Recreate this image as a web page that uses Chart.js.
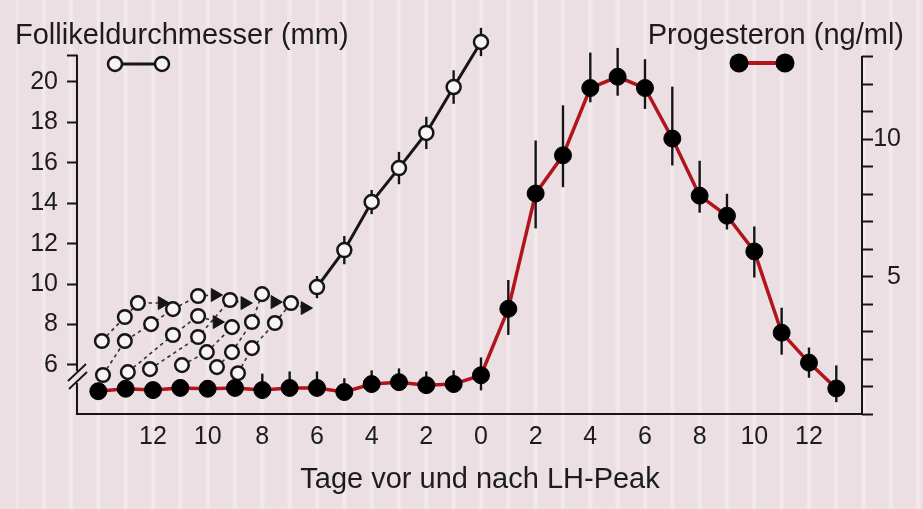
<!DOCTYPE html>
<html>
<head>
<meta charset="utf-8">
<script src="https://cdn.jsdelivr.net/npm/chart.js@4/dist/chart.umd.min.js"></script>
<style>
  html, body { margin: 0; padding: 0; }
  body {
    width: 923px; height: 509px; overflow: hidden;
    background-color: #ecdfe3;
    background-image: repeating-linear-gradient(90deg,
      rgba(255,255,255,0.3) 0px, rgba(255,255,255,0.3) 1.5px,
      rgba(255,255,255,0) 2.5px, rgba(255,255,255,0) 24.83px,
      rgba(255,255,255,0.3) 25.83px, rgba(255,255,255,0.3) 27.33px);
    background-position: 16.4px 0;
  }
  canvas { display: block; }
</style>
</head>
<body>
<canvas id="chart" width="923" height="509"></canvas>
<script>
// Days relative to the LH peak
const days = [-14,-13,-12,-11,-10,-9,-8,-7,-6,-5,-4,-3,-2,-1,0,1,2,3,4,5,6,7,8,9,10,11,12,13];

// Progesterone (ng/ml), mean with upper/lower error
const progesterone = [0.83,0.92,0.87,0.95,0.92,0.95,0.87,0.95,0.95,0.80,1.09,1.16,1.05,1.09,1.41,
                      3.83,8.03,9.42,11.87,12.28,11.87,10.03,7.95,7.22,5.92,2.96,1.87,0.93];
const progErrUp   = [0.3,0.3,0.3,0.3,0.3,0.3,0.6,0.6,0.6,0.5,0.5,0.5,0.5,0.5,0.65,
                     1.05,1.93,1.82,1.29,1.05,1.05,1.89,1.27,0.8,0.91,0.91,0.55,0.84];
const progErrDown = [0.3,0.3,0.3,0.3,0.3,0.3,0.3,0.3,0.3,0.3,0.3,0.3,0.3,0.3,0.55,
                     0.95,1.27,1.16,0.52,0.69,0.76,0.98,0.62,0.5,0.95,0.8,0.55,0.5];

// Diameter of the dominant follicle (mm)
const follicleDays = [-6,-5,-4,-3,-2,-1,0];
const follicleMm   = [9.85,11.68,14.06,15.74,17.48,19.75,21.98];
const follicleErr  = [0.55,0.7,0.6,0.8,0.8,0.83,0.7];

// Growing follicle cohorts (dashed tracks); last entry of an arrow track is the arrowhead
const cohort1Days = [-13.87,-13.03,-12.55,-11.67];
const cohort1Mm   = [7.18,8.37,9.06,9.06];
const cohort2Days = [-13.83,-13.03,-12.07,-11.27,-10.35,-9.73];
const cohort2Mm   = [5.50,7.18,8.02,8.76,9.41,9.46];
const cohort3Days = [-12.92,-11.27,-10.35,-9.66];
const cohort3Mm   = [5.64,7.48,8.42,8.12];
const cohort4Days = [-12.11,-10.35,-9.18,-8.64];
const cohort4Mm   = [5.79,7.38,9.21,9.06];
const cohort5Days = [-10.94,-10.03,-9.11];
const cohort5Mm   = [5.99,6.63,7.87];
const cohort6Days = [-9.66,-9.11,-8.38,-8.01,-7.54];
const cohort6Mm   = [5.89,6.63,8.12,9.50,9.11];
const cohort7Days = [-8.89,-8.38,-7.54,-6.95,-6.44];
const cohort7Mm   = [5.59,6.83,8.07,9.06,8.81];

// Axis ticks
const xTicks = [-12,-10,-8,-6,-4,-2,0,2,4,6,8,10,12];
const mmTicks = [6,8,10,12,14,16,18,20];
const mmAxisTop = 21.3;
const progTicks = [0,1,2,3,4,5,6,7,8,9,10,11,12,13];
const progLabelled = [5,10];

const INK = '#151515';
const RED = '#b0141c';
const OPEN = '#f8f4f5';
const FONT = '"Liberation Sans", Arial, Helvetica, sans-serif';

const toXY = (xs, ys) => xs.map((x, i) => ({ x: x, y: ys[i] }));

function cohortDataset(xs, ys, arrow) {
  const n = xs.length;
  const isHead = i => arrow && i === n - 1;
  return {
    data: toXY(xs, ys),
    yAxisID: 'yL',
    borderColor: '#333',
    borderWidth: 1.6,
    borderDash: [3.5, 3.5],
    pointStyle: xs.map((_, i) => isHead(i) ? 'triangle' : 'circle'),
    rotation: xs.map((_, i) => isHead(i) ? 90 : 0),
    pointRadius: xs.map((_, i) => isHead(i) ? 7.5 : 6.8),
    pointBackgroundColor: xs.map((_, i) => isHead(i) ? INK : OPEN),
    pointBorderColor: INK,
    pointBorderWidth: xs.map((_, i) => isHead(i) ? 1 : 2.5),
    tension: 0,
    clip: false,
    order: 3
  };
}

// Error bars drawn beneath the markers
const errorBars = {
  id: 'errorBars',
  beforeDatasetsDraw(chart) {
    const { ctx, scales } = chart;
    const x = scales.x, yL = scales.yL, yR = scales.yR;
    ctx.save();
    ctx.strokeStyle = INK;
    ctx.lineWidth = 2.4;
    days.forEach((d, i) => {
      const px = x.getPixelForValue(d);
      ctx.beginPath();
      ctx.moveTo(px, yR.getPixelForValue(progesterone[i] + progErrUp[i]));
      ctx.lineTo(px, yR.getPixelForValue(progesterone[i] - progErrDown[i]));
      ctx.stroke();
    });
    follicleDays.forEach((d, i) => {
      const px = x.getPixelForValue(d);
      ctx.beginPath();
      ctx.moveTo(px, yL.getPixelForValue(follicleMm[i] + follicleErr[i]));
      ctx.lineTo(px, yL.getPixelForValue(follicleMm[i] - follicleErr[i]));
      ctx.stroke();
    });
    ctx.restore();
  }
};

// Axis lines (left one with a break), axis titles and legend keys
const decor = {
  id: 'decor',
  afterDraw(chart) {
    const { ctx, chartArea: a, scales } = chart;
    const seg = (x1, y1, x2, y2) => { ctx.beginPath(); ctx.moveTo(x1, y1); ctx.lineTo(x2, y2); ctx.stroke(); };
    ctx.save();
    ctx.strokeStyle = INK;
    ctx.lineWidth = 2;
    const bx = a.left;
    const leftTop = scales.yL.getPixelForValue(mmAxisTop);
    seg(bx, leftTop - 1, bx, a.bottom - 43);
    seg(bx, a.bottom - 31, bx, a.bottom + 1);
    ctx.lineWidth = 1.8;
    seg(bx - 9, a.bottom - 33, bx + 9, a.bottom - 50);
    seg(bx - 8, a.bottom - 25, bx + 10, a.bottom - 42);

    ctx.lineWidth = 2;
    const rx = a.right;
    seg(rx, scales.yR.getPixelForValue(progTicks[progTicks.length - 1]) - 1, rx, a.bottom + 1);

    ctx.fillStyle = '#1c1c1c';
    ctx.font = '29px ' + FONT;
    ctx.textBaseline = 'alphabetic';
    ctx.textAlign = 'left';
    ctx.fillText('Follikeldurchmesser (mm)', 15, 44);
    ctx.textAlign = 'right';
    ctx.fillText('Progesteron (ng/ml)', 904, 44);
    ctx.textAlign = 'center';
    ctx.fillText('Tage vor und nach LH-Peak', 480, 488);

    // legend: follicle diameter
    ctx.strokeStyle = INK;
    ctx.lineWidth = 3;
    seg(115, 64, 162, 64);
    ctx.lineWidth = 2.5;
    ctx.fillStyle = OPEN;
    [115, 162].forEach(cx => { ctx.beginPath(); ctx.arc(cx, 64, 7, 0, Math.PI * 2); ctx.fill(); ctx.stroke(); });
    // legend: progesterone
    ctx.strokeStyle = RED;
    ctx.lineWidth = 4;
    seg(739, 63, 785, 63);
    ctx.fillStyle = '#000';
    [739, 785].forEach(cx => { ctx.beginPath(); ctx.arc(cx, 63, 9.5, 0, Math.PI * 2); ctx.fill(); });
    ctx.restore();
  }
};

Chart.defaults.font.family = FONT;
Chart.defaults.color = '#1c1c1c';

new Chart(document.getElementById('chart'), {
  type: 'line',
  data: {
    datasets: [
      {
        label: 'Progesteron',
        data: toXY(days, progesterone),
        yAxisID: 'yR',
        borderColor: RED,
        borderWidth: 3.5,
        pointRadius: 8.5,
        pointBackgroundColor: '#000',
        pointBorderColor: '#000',
        pointBorderWidth: 1,
        tension: 0,
        clip: false,
        order: 0
      },
      {
        label: 'Follikeldurchmesser',
        data: toXY(follicleDays, follicleMm),
        yAxisID: 'yL',
        borderColor: INK,
        borderWidth: 3,
        pointRadius: 7,
        pointBackgroundColor: OPEN,
        pointBorderColor: INK,
        pointBorderWidth: 2.5,
        tension: 0,
        clip: false,
        order: 1
      },
      cohortDataset(cohort1Days, cohort1Mm, true),
      cohortDataset(cohort2Days, cohort2Mm, true),
      cohortDataset(cohort3Days, cohort3Mm, true),
      cohortDataset(cohort4Days, cohort4Mm, true),
      cohortDataset(cohort5Days, cohort5Mm, false),
      cohortDataset(cohort6Days, cohort6Mm, true),
      cohortDataset(cohort7Days, cohort7Mm, true)
    ]
  },
  options: {
    responsive: false,
    devicePixelRatio: 1,
    animation: false,
    layout: { padding: { top: 32, left: 0, right: 22, bottom: 0 } },
    plugins: { legend: { display: false }, tooltip: { enabled: false } },
    scales: {
      x: {
        type: 'linear',
        min: -14.78,
        max: 13.94,
        afterBuildTicks: s => { s.ticks = xTicks.map(v => ({ value: v })); },
        afterFit: s => { s.height = 95; },
        ticks: {
          autoSkip: false, maxRotation: 0,
          font: { size: 25 }, color: '#1c1c1c', padding: 8,
          callback: v => String(Math.abs(v))
        },
        grid: { display: false, drawTicks: false },
        border: { display: true, color: INK, width: 2 }
      },
      yL: {
        type: 'linear',
        position: 'left',
        min: 3.57,
        max: 22.474,
        afterBuildTicks: s => { s.ticks = mmTicks.concat([mmAxisTop]).map(v => ({ value: v })); },
        afterFit: s => { s.width = 77; },
        ticks: {
          autoSkip: false, font: { size: 25 }, color: '#1c1c1c', padding: 9,
          callback: v => (mmTicks.includes(v) ? String(v) : '')
        },
        grid: { drawOnChartArea: false, drawTicks: true, tickLength: 10, tickWidth: 2, tickColor: INK },
        border: { display: false }
      },
      yR: {
        type: 'linear',
        position: 'right',
        min: 0,
        max: 13.91,
        afterBuildTicks: s => { s.ticks = progTicks.map(v => ({ value: v })); },
        afterFit: s => { s.width = 39; },
        ticks: {
          autoSkip: false, font: { size: 25 }, color: '#1c1c1c',
          padding: 0, crossAlign: 'far',
          callback: v => (progLabelled.includes(v) ? String(v) : '')
        },
        grid: { drawOnChartArea: false, drawTicks: true, tickLength: 11, tickWidth: 2, tickColor: INK },
        border: { display: false }
      }
    }
  },
  plugins: [errorBars, decor]
});
</script>
</body>
</html>
